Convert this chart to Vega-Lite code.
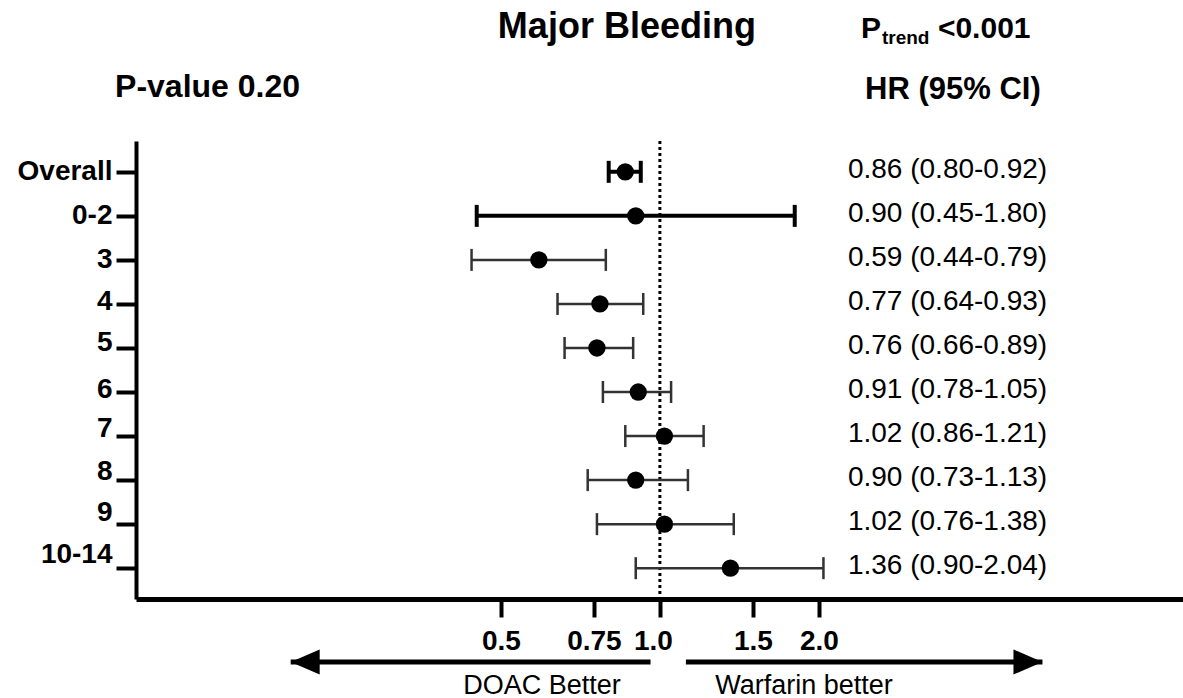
{
  "$schema": "https://vega.github.io/schema/vega-lite/v6.json",
  "background": "white",
  "padding": {"left": 17, "top": 0, "right": 0, "bottom": 0},
  "spacing": 2,
  "config": {
    "view": {"stroke": null},
    "font": "Liberation Sans"
  },
  "vconcat": [
    {
      "width": 1047,
      "height": 137,
      "data": {"values": [{}]},
      "layer": [
        {
          "mark": {"type": "text", "text": "Major Bleeding", "font": "Liberation Sans", "fontWeight": "bold", "fontSize": 36, "align": "center", "baseline": "alphabetic", "color": "black"},
          "encoding": {
            "x": {"datum": 0.866, "type": "quantitative", "scale": {"type": "log", "domain": [0.1019, 9.78], "nice": false}, "axis": null},
            "y": {"datum": "top", "type": "nominal", "scale": {"type": "point", "domain": ["top", "sub"], "padding": 0.623}, "axis": null}
          }
        },
        {
          "mark": {"type": "text", "text": "P", "font": "Liberation Sans", "fontWeight": "bold", "fontSize": 30, "align": "left", "baseline": "alphabetic", "color": "black"},
          "encoding": {
            "x": {"datum": 2.402, "type": "quantitative"},
            "y": {"datum": "top", "type": "nominal"}
          }
        },
        {
          "mark": {"type": "text", "text": "trend", "font": "Liberation Sans", "fontWeight": "bold", "fontSize": 19, "align": "left", "baseline": "alphabetic", "dx": 21, "dy": 6, "color": "black"},
          "encoding": {
            "x": {"datum": 2.402, "type": "quantitative"},
            "y": {"datum": "top", "type": "nominal"}
          }
        },
        {
          "mark": {"type": "text", "text": "<0.001", "font": "Liberation Sans", "fontWeight": "bold", "fontSize": 30, "align": "left", "baseline": "alphabetic", "dx": 77, "color": "black"},
          "encoding": {
            "x": {"datum": 2.402, "type": "quantitative"},
            "y": {"datum": "top", "type": "nominal"}
          }
        },
        {
          "mark": {"type": "text", "text": "P-value 0.20", "font": "Liberation Sans", "fontWeight": "bold", "fontSize": 32, "align": "center", "baseline": "alphabetic", "dy": -2, "color": "black"},
          "encoding": {
            "x": {"datum": 0.1392, "type": "quantitative"},
            "y": {"datum": "sub", "type": "nominal"}
          }
        },
        {
          "mark": {"type": "text", "text": "HR (95% CI)", "font": "Liberation Sans", "fontWeight": "bold", "fontSize": 31, "align": "center", "baseline": "alphabetic", "color": "black"},
          "encoding": {
            "x": {"datum": 3.587, "type": "quantitative"},
            "y": {"datum": "sub", "type": "nominal"}
          }
        }
      ]
    },
    {
      "spacing": -6,
      "vconcat": [
        {
          "width": 1047,
          "height": 458,
          "data": {
            "values": [
              {"group": "Overall", "hr": 0.86, "lo": 0.80, "hi": 0.92},
              {"group": "0-2", "hr": 0.90, "lo": 0.45, "hi": 1.80},
              {"group": "3", "hr": 0.59, "lo": 0.44, "hi": 0.79},
              {"group": "4", "hr": 0.77, "lo": 0.64, "hi": 0.93},
              {"group": "5", "hr": 0.76, "lo": 0.66, "hi": 0.89},
              {"group": "6", "hr": 0.91, "lo": 0.78, "hi": 1.05},
              {"group": "7", "hr": 1.02, "lo": 0.86, "hi": 1.21},
              {"group": "8", "hr": 0.90, "lo": 0.73, "hi": 1.13},
              {"group": "9", "hr": 1.02, "lo": 0.76, "hi": 1.38},
              {"group": "10-14", "hr": 1.36, "lo": 0.90, "hi": 2.04}
            ]
          },
          "layer": [
            {
              "data": {"values": [{}]},
              "mark": {"type": "rule", "strokeDash": [3, 3], "strokeWidth": 3, "color": "black"},
              "encoding": {
                "x": {
                  "datum": 1,
                  "type": "quantitative",
                  "scale": {"type": "log", "domain": [0.1019, 9.78], "nice": false},
                  "axis": {
                    "title": null,
                    "values": [0.5, 0.75, 1, 1.5, 2],
                    "labelExpr": "format(datum.value, datum.value == 0.75 ? '.2f' : '.1f')",
                    "labelFont": "Liberation Sans",
                    "labelFontWeight": "bold",
                    "labelFontSize": 28,
                    "labelColor": "black",
                    "labelPadding": 10,
                    "labelFlush": false,
                    "labelOverlap": false,
                    "labelBound": false,
                    "labelOffset": {"condition": {"test": "datum.value == 1", "value": -7}, "value": 0},
                    "tickSize": 18,
                    "tickWidth": 4,
                    "tickColor": "black",
                    "domainColor": "black",
                    "domainWidth": 5,
                    "grid": false,
                    "minExtent": 40,
                    "maxExtent": 40
                  }
                }
              }
            },
            {
              "mark": {"type": "rule", "strokeCap": "butt"},
              "encoding": {
                "x": {"field": "lo", "type": "quantitative"},
                "x2": {"field": "hi"},
                "y": {
                  "field": "group",
                  "type": "nominal",
                  "sort": null,
                  "scale": {"type": "point", "padding": 0.7},
                  "axis": {
                    "title": null,
                    "labelFont": "Liberation Sans",
                    "labelFontWeight": "bold",
                    "labelFontSize": 28,
                    "labelColor": "black",
                    "labelPadding": 4,
                    "labelBaseline": "middle",
                    "labelOffset": {
                      "condition": [
                        {"test": "datum.value == '10-14'", "value": -14},
                        {"test": "datum.value == '9'", "value": -12},
                        {"test": "datum.value == '8'", "value": -9},
                        {"test": "datum.value == '7'", "value": -8},
                        {"test": "datum.value == '6'", "value": -3},
                        {"test": "datum.value == '5'", "value": -5},
                        {"test": "datum.value == '4'", "value": -2}
                      ],
                      "value": 0
                    },
                    "tickSize": 20,
                    "tickWidth": 4,
                    "tickColor": "black",
                    "domainColor": "black",
                    "domainWidth": 4,
                    "grid": false
                  }
                },
                "strokeWidth": {"condition": {"test": "datum.group == 'Overall' || datum.group == '0-2'", "value": 4}, "value": 2.5},
                "color": {"condition": {"test": "datum.group == 'Overall' || datum.group == '0-2'", "value": "black"}, "value": "#333333"}
              }
            },
            {
              "transform": [{"fold": ["lo", "hi"], "as": ["end", "ci"]}],
              "mark": {"type": "point", "shape": "M0,-1L0,1", "filled": false, "opacity": 1, "size": 484, "strokeCap": "butt"},
              "encoding": {
                "x": {"field": "ci", "type": "quantitative"},
                "y": {"field": "group", "type": "nominal", "sort": null},
                "strokeWidth": {"condition": {"test": "datum.group == 'Overall' || datum.group == '0-2'", "value": 4}, "value": 2.5},
                "color": {"condition": {"test": "datum.group == 'Overall' || datum.group == '0-2'", "value": "black"}, "value": "#333333"}
              }
            },
            {
              "mark": {"type": "circle", "size": 300, "opacity": 1, "color": "black"},
              "encoding": {
                "x": {"field": "hr", "type": "quantitative"},
                "y": {"field": "group", "type": "nominal", "sort": null}
              }
            },
            {
              "transform": [{"calculate": "format(datum.hr, '.2f') + ' (' + format(datum.lo, '.2f') + '-' + format(datum.hi, '.2f') + ')'", "as": "label"}],
              "mark": {"type": "text", "font": "Liberation Sans", "fontSize": 28, "align": "left", "baseline": "middle", "dy": -2, "color": "black"},
              "encoding": {
                "x": {"datum": 2.27, "type": "quantitative"},
                "y": {"field": "group", "type": "nominal", "sort": null},
                "text": {"field": "label"}
              }
            }
          ]
        },
        {
          "width": 1047,
          "height": 10,
          "data": {
            "values": [
              {"side": "DOAC Better", "start": 0.96, "tip": 0.2},
              {"side": "Warfarin better", "start": 1.12, "tip": 5.3}
            ]
          },
          "layer": [
            {
              "mark": {"type": "rule", "strokeWidth": 5, "color": "black", "strokeCap": "butt"},
              "encoding": {
                "x": {"field": "start", "type": "quantitative", "scale": {"type": "log", "domain": [0.1019, 9.78], "nice": false}, "axis": null},
                "x2": {"field": "tip"},
                "y": {"datum": "arrow", "type": "nominal", "scale": {"type": "point"}, "axis": null}
              }
            },
            {
              "mark": {"type": "point", "filled": true, "opacity": 1, "color": "black", "size": 841},
              "encoding": {
                "x": {"field": "tip", "type": "quantitative"},
                "y": {"datum": "arrow", "type": "nominal"},
                "shape": {
                  "field": "side",
                  "type": "nominal",
                  "scale": {"domain": ["DOAC Better", "Warfarin better"], "range": ["M0,0L2,-0.86L2,0.86Z", "M0,0L-2,-0.86L-2,0.86Z"]},
                  "legend": null
                }
              }
            },
            {
              "transform": [{"filter": "datum.side == 'DOAC Better'"}],
              "mark": {"type": "text", "font": "Liberation Sans", "fontSize": 27, "align": "center", "baseline": "alphabetic", "dy": 32, "color": "black"},
              "encoding": {
                "x": {"datum": 0.598, "type": "quantitative"},
                "y": {"datum": "arrow", "type": "nominal"},
                "text": {"field": "side"}
              }
            },
            {
              "transform": [{"filter": "datum.side == 'Warfarin better'"}],
              "mark": {"type": "text", "font": "Liberation Sans", "fontSize": 27, "align": "center", "baseline": "alphabetic", "dy": 32, "color": "black"},
              "encoding": {
                "x": {"datum": 1.874, "type": "quantitative"},
                "y": {"datum": "arrow", "type": "nominal"},
                "text": {"field": "side"}
              }
            }
          ]
        }
      ]
    }
  ]
}
